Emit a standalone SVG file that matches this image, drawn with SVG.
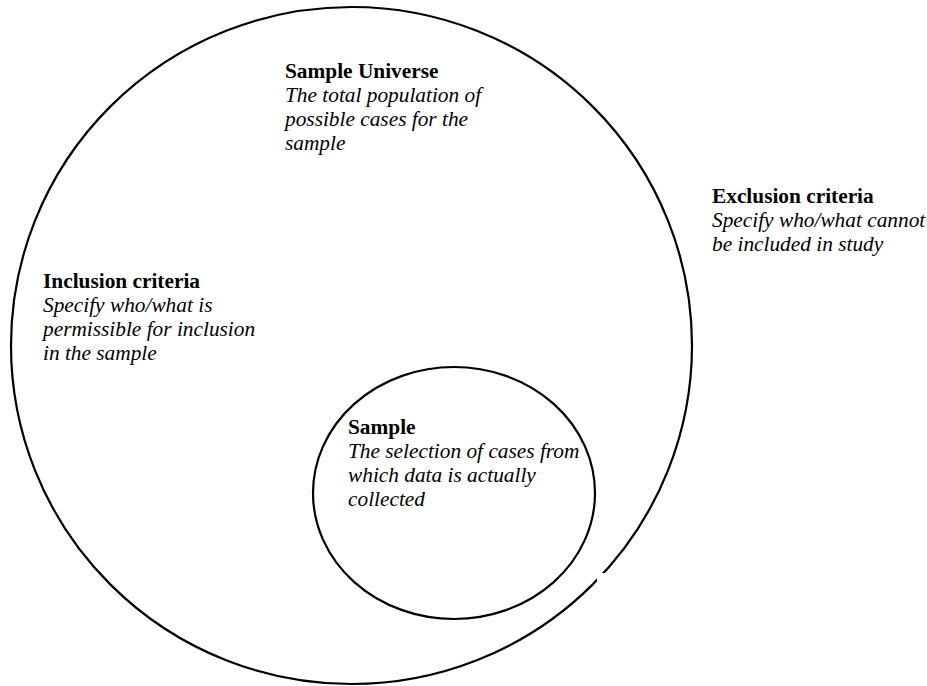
<svg xmlns="http://www.w3.org/2000/svg" width="927" height="686" viewBox="0 0 927 686">
<style>
.ring{fill:none;stroke:#000;stroke-width:2.2}
.t{font-family:"Liberation Serif","Times New Roman",serif;font-size:21.33px;fill:#000}
.b{font-weight:bold}
.i{font-style:italic}
</style>
<rect width="927" height="686" fill="#fff"/>
<g id="universe">
<ellipse class="ring" cx="351.5" cy="345.5" rx="340.5" ry="338.5"/>
<rect x="597" y="573" width="8" height="8" fill="#fff"/>
<text class="t" x="285"><tspan class="b" y="78">Sample Universe</tspan><tspan class="i" x="285" y="102">The total population of</tspan><tspan class="i" x="285" y="126">possible cases for the</tspan><tspan class="i" x="285" y="150">sample</tspan></text>
</g>
<g id="sample">
<ellipse class="ring" cx="454" cy="493" rx="141" ry="126"/>
<text class="t" x="348"><tspan class="b" y="434">Sample</tspan><tspan class="i" x="348" y="458">The selection of cases from</tspan><tspan class="i" x="348" y="482">which data is actually</tspan><tspan class="i" x="348" y="506">collected</tspan></text>
</g>
<g id="inclusion">
<text class="t" x="43"><tspan class="b" y="288">Inclusion criteria</tspan><tspan class="i" x="43" y="312">Specify who/what is</tspan><tspan class="i" x="43" y="336">permissible for inclusion</tspan><tspan class="i" x="43" y="360">in the sample</tspan></text>
</g>
<g id="exclusion">
<text class="t" x="712"><tspan class="b" y="203">Exclusion criteria</tspan><tspan class="i" x="712" y="227">Specify who/what cannot</tspan><tspan class="i" x="712" y="251">be included in study</tspan></text>
</g>
<g id="connectors"></g>
</svg>
